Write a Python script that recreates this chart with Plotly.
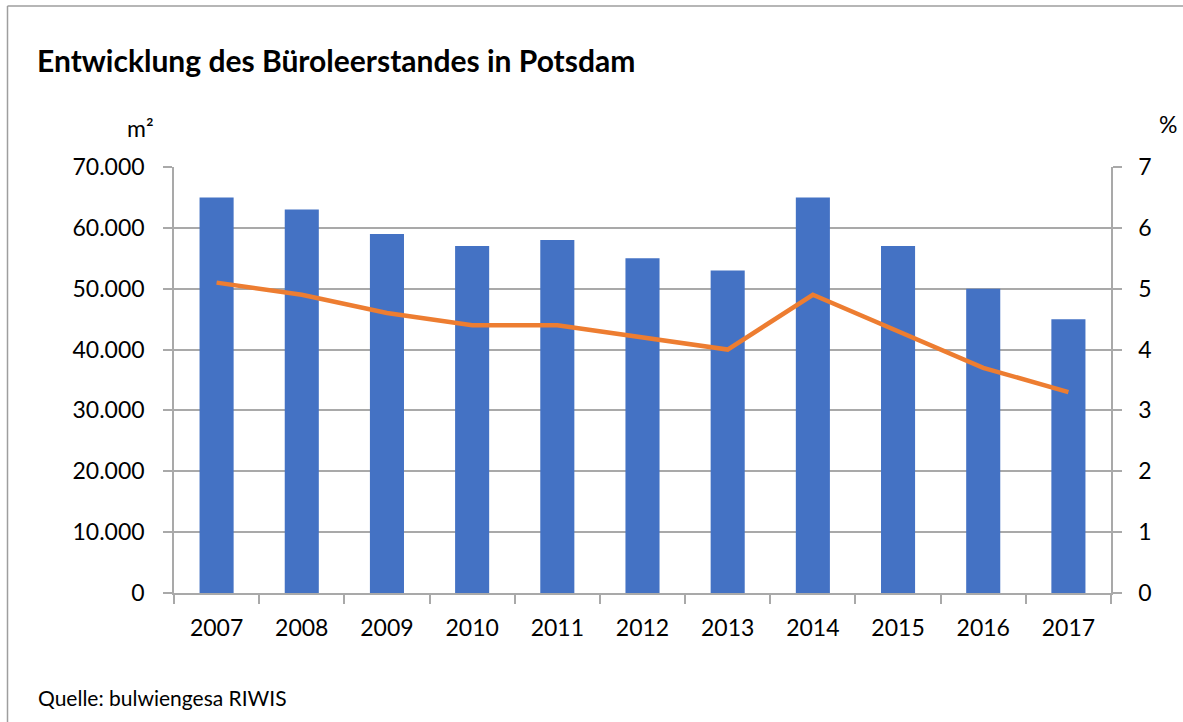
import plotly.graph_objects as go

years = ["2007", "2008", "2009", "2010", "2011", "2012", "2013", "2014", "2015", "2016", "2017"]
leerstand_m2 = [65000, 63000, 59000, 57000, 58000, 55000, 53000, 65000, 57000, 50000, 45000]
leerstand_pct = [5.1, 4.9, 4.6, 4.4, 4.4, 4.2, 4.0, 4.9, 4.3, 3.7, 3.3]
left_ticks = [0, 10000, 20000, 30000, 40000, 50000, 60000, 70000]
right_ticks = [0, 1, 2, 3, 4, 5, 6, 7]

FONT = "Lato, 'Open Sans', sans-serif"
GRID = "#A9A9A9"
TS = 23

fig = go.Figure()
fig.add_trace(go.Bar(x=years, y=leerstand_m2, marker=dict(color="#4472C4", line=dict(width=0)),
                     width=0.4, yaxis="y", name="m²"))
fig.add_trace(go.Scatter(x=years, y=leerstand_pct, mode="lines", line=dict(color="#ED7D31", width=4.5),
                         yaxis="y2", name="%"))

W, H = 1183, 722
ml, mr, mt, mb = 174, 72, 167, 129
pw, ph = W - ml - mr, H - mt - mb

def px(x):
    return (x - ml) / pw

def py(y):
    return (H - mb - y) / ph

fig.update_layout(
    width=W, height=H,
    margin=dict(l=ml, r=mr, t=mt, b=mb, pad=0),
    paper_bgcolor="white", plot_bgcolor="white",
    separators=",.",
    showlegend=False,
    font=dict(family=FONT, size=TS, color="#000000"),
    xaxis=dict(type="category", showgrid=False, showline=True, linecolor=GRID, linewidth=1.5,
               ticks="outside", tickson="boundaries", ticklen=9, tickcolor=GRID, tickwidth=1.5,
               tickfont=dict(size=TS), range=[-0.5, 10.5], ticklabelstandoff=14),
    yaxis=dict(range=[0, 70000], tickvals=left_ticks, tickformat=",.0f", showgrid=True,
               gridcolor=GRID, gridwidth=1.5, showline=True, linecolor=GRID, linewidth=1.5,
               ticks="outside", ticklen=9, tickcolor=GRID, tickwidth=1.5, zeroline=False,
               tickfont=dict(size=TS), ticklabelstandoff=14),
    yaxis2=dict(range=[0, 7], tickvals=right_ticks, overlaying="y", side="right", showgrid=False,
                showline=True, linecolor=GRID, linewidth=1.5, ticks="outside", ticklen=9,
                tickcolor=GRID, tickwidth=1.5, zeroline=False, tickfont=dict(size=TS),
                ticklabelstandoff=12),
    shapes=[
        dict(type="line", xref="paper", yref="paper", x0=px(7.5), x1=px(7.5), y0=py(6), y1=py(722),
             line=dict(color="#9E9E9E", width=1.5)),
        dict(type="line", xref="paper", yref="paper", x0=px(7.5), x1=px(1183), y0=py(6), y1=py(6),
             line=dict(color="#9E9E9E", width=1.5)),
    ],
    annotations=[
        dict(text="<b>Entwicklung des Büroleerstandes in Potsdam</b>", xref="paper", yref="paper",
             x=px(35), y=py(60), xanchor="left", yanchor="middle", showarrow=False,
             font=dict(size=30, family=FONT)),
        dict(text="m²", xref="paper", yref="paper", x=px(156), y=py(128), xanchor="right",
             yanchor="middle", showarrow=False, font=dict(size=TS)),
        dict(text="%", xref="paper", yref="paper", x=px(1168), y=py(124), xanchor="center",
             yanchor="middle", showarrow=False, font=dict(size=TS)),
        dict(text="Quelle: bulwiengesa RIWIS", xref="paper", yref="paper", x=px(36), y=py(697),
             xanchor="left", yanchor="middle", showarrow=False, font=dict(size=21)),
    ],
)

fig.write_html("out.html", config={"displayModeBar": False},
               post_script="document.body.style.margin='0';document.body.style.overflow='hidden';")
